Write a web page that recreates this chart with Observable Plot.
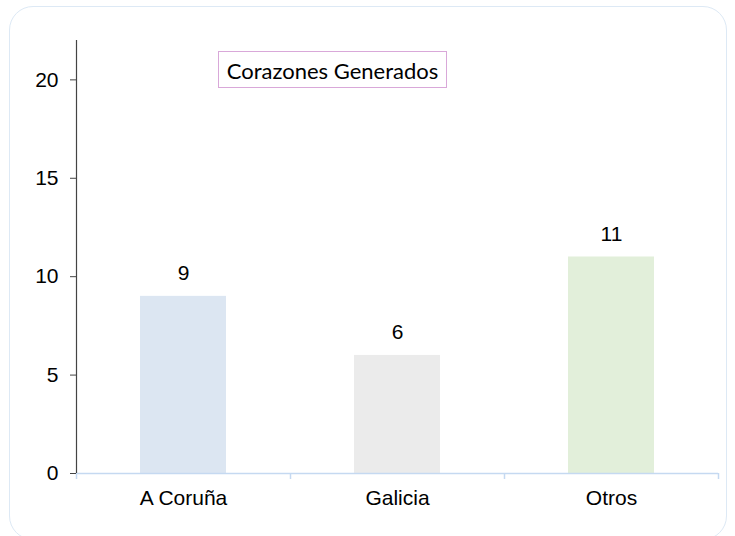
<!DOCTYPE html>
<html>
<head>
<meta charset="utf-8">
<script src="https://cdn.jsdelivr.net/npm/d3@7"></script>
<script src="https://cdn.jsdelivr.net/npm/@observablehq/plot@0.6"></script>
<style>
  body { margin: 0; background: #fff; }
  #wrap { position: relative; width: 735px; height: 536px; overflow: hidden; }
  #frame { position: absolute; left: 9px; top: 6px; width: 718px; height: 534px;
           border: 1px solid #dde9f5; border-radius: 24px; box-sizing: border-box; }
  #title { position: absolute; left: 218px; top: 51px; width: 229px; height: 37px;
           border: 1px solid #d9a8d9; box-sizing: border-box; background: #fff;
           font-family: Lato, "Open Sans", sans-serif; font-size: 22px; color: #000;
           display: flex; align-items: center; justify-content: center; padding-top: 1px; }
  #chart { position: absolute; left: 0; top: 0; }
</style>
</head>
<body>
<div id="wrap">
  <div id="frame"></div>
  <div id="chart"></div>
  <div id="title">Corazones Generados</div>
</div>
<script>
const categories = ["A Coruña", "Galicia", "Otros"];
const values = [9, 6, 11];
const colors = ["#dce6f2", "#ebebeb", "#e2efda"];
const yTicks = [0, 5, 10, 15, 20];

const data = categories.map((c, i) => ({cat: c, value: values[i], color: colors[i]}));

const W = 735, H = 536, mL = 76, mR = 17, mT = 40, mB = 63;
const halfStep = (W - mL - mR) / categories.length / 2;
const barInset = halfStep - 43;

const chart = Plot.plot({
  width: W, height: H,
  marginLeft: mL, marginRight: mR, marginTop: mT, marginBottom: mB,
  style: {fontFamily: "Liberation Sans, Arial, sans-serif", fontSize: "21px", color: "#000", background: "transparent"},
  x: {domain: categories, padding: 0},
  y: {domain: [0, 22]},
  marks: [
    Plot.barY(data, {x: "cat", y: "value", fill: "color", insetLeft: barInset, insetRight: barInset}),
    Plot.ruleY([0], {stroke: "#c5d9f1", strokeWidth: 1.5}),
    Plot.ruleX(categories, {x: d => d, dx: -halfStep, y1: 0, y2: 0, insetBottom: -6, stroke: "#c5d9f1", strokeWidth: 1.5}),
    Plot.ruleX([categories[categories.length - 1]], {x: d => d, dx: halfStep, y1: 0, y2: 0, insetBottom: -6, stroke: "#c5d9f1", strokeWidth: 1.5}),
    Plot.ruleX([categories[0]], {x: d => d, dx: -halfStep, y1: 0, y2: 22, stroke: "#444", strokeWidth: 1.2}),
    Plot.axisY({ticks: yTicks, tickSize: 6, tickPadding: 12, label: null, stroke: "#444", fontSize: 21, color: "#000"}),
    Plot.axisX({tickSize: 0, tickPadding: 17, label: null, fontSize: 21}),
    Plot.text(data, {x: "cat", y: "value", text: d => String(d.value), dy: -23, fontSize: 21, fill: "#000"})
  ]
});
document.getElementById("chart").appendChild(chart);
</script>
</body>
</html>
